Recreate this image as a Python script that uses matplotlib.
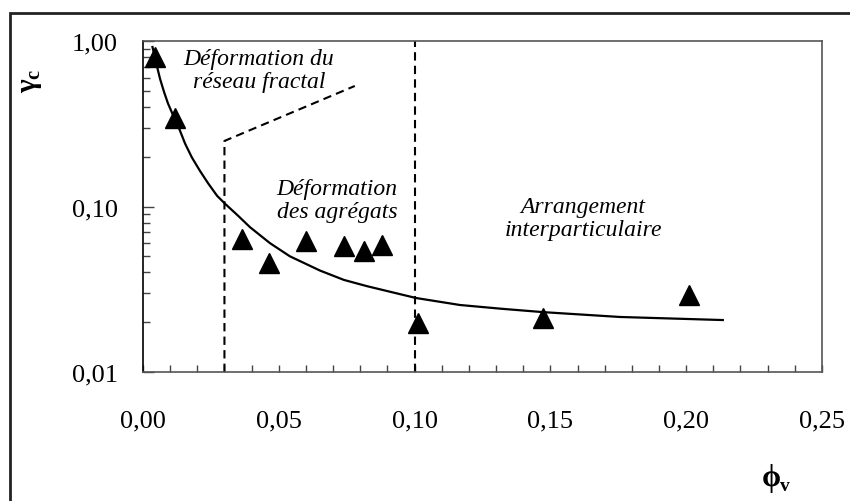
import matplotlib
matplotlib.use("Agg")
import matplotlib.pyplot as plt
from matplotlib.patches import Rectangle
from matplotlib.ticker import FixedLocator, LogLocator, NullFormatter

plt.rcParams['font.family'] = ['Liberation Serif', 'DejaVu Serif']
plt.rcParams['mathtext.fontset'] = 'custom'
plt.rcParams['mathtext.rm'] = 'Liberation Serif'
plt.rcParams['mathtext.it'] = 'Liberation Serif:italic'
plt.rcParams['mathtext.bf'] = 'Liberation Serif:bold'

# points mesures (phi_v, gamma_c)
phi_pts = [0.0044, 0.0118, 0.0363, 0.0465, 0.0600, 0.0740, 0.0814, 0.0879, 0.1014, 0.1472, 0.2011]
gamma_pts = [0.797, 0.341, 0.0637, 0.0456, 0.0617, 0.0578, 0.0536, 0.0587, 0.0198, 0.0211, 0.0292]

# courbe d'ajustement
curve_phi = [0.0035, 0.0050, 0.0063, 0.0078, 0.0092, 0.0108, 0.0125, 0.0155, 0.0180, 0.0210,
             0.0240, 0.0273, 0.0302, 0.0350, 0.0394, 0.0468, 0.0541, 0.0652, 0.0740, 0.0825,
             0.1005, 0.1167, 0.1320, 0.1473, 0.1756, 0.2135]
curve_gamma = [0.92, 0.72, 0.59, 0.49, 0.42, 0.365, 0.32, 0.24, 0.198, 0.164,
               0.138, 0.116, 0.104, 0.088, 0.075, 0.060, 0.050, 0.041, 0.036, 0.033,
               0.028, 0.0254, 0.0241, 0.0230, 0.0215, 0.0206]

# limites des regimes (pointilles)
frontier1_phi = [0.03, 0.03, 0.078]
frontier1_gamma = [0.01, 0.249, 0.535]
frontier2_phi = [0.10, 0.10]
frontier2_gamma = [0.01, 1.0]

xticks = [0.0, 0.05, 0.10, 0.15, 0.20, 0.25]
xticklabels = ["0,00", "0,05", "0,10", "0,15", "0,20", "0,25"]
yticks = [0.01, 0.1, 1.0]
yticklabels = ["0,01", "0,10", "1,00"]

fig = plt.figure(figsize=(8.5, 5.02), dpi=100)
ax = fig.add_axes([0.1682, 0.257, 0.7988, 0.6593])

ax.plot(curve_phi, curve_gamma, color='black', lw=1.6, zorder=3)
ax.plot(phi_pts, gamma_pts, linestyle='none', marker='^', ms=14, color='black', zorder=4)
dash = (0, (4, 2.5))
ax.plot(frontier1_phi, frontier1_gamma, color='black', lw=1.5, linestyle=dash, zorder=2)
ax.plot(frontier2_phi, frontier2_gamma, color='black', lw=1.5, linestyle=dash, zorder=2)

ax.set_yscale('log')
ax.set_xlim(0, 0.25)
ax.set_ylim(0.01, 1.0)

ax.set_xticks(xticks)
ax.set_xticklabels(xticklabels)
ax.xaxis.set_minor_locator(FixedLocator([i / 100 for i in range(26)]))
ax.set_yticks(yticks)
ax.set_yticklabels(yticklabels)
ax.yaxis.set_minor_locator(LogLocator(base=10, subs=range(2, 10)))
ax.yaxis.set_minor_formatter(NullFormatter())

ax.tick_params(axis='x', which='both', direction='in', length=5, width=1, color='#444444',
               labelsize=19, pad=27, top=False)
ax.tick_params(axis='y', which='major', direction='in', length=8, width=1, color='#444444',
               labelsize=19, pad=18, right=False)
ax.tick_params(axis='y', which='minor', direction='in', length=5, width=1, color='#444444',
               right=False)

for side in ['top', 'right', 'bottom']:
    ax.spines[side].set_color('#555555')
    ax.spines[side].set_linewidth(1.2)
ax.spines['left'].set_color('black')
ax.spines['left'].set_linewidth(1.2)

txt = dict(fontsize=17, style='italic', ha='center', va='center', linespacing=1.15)
ax.text(0.0427, 0.668, "Déformation du\nréseau fractal", **txt)
ax.text(0.0714, 0.1094, "Déformation\ndes agrégats", **txt)
ax.text(0.162, 0.0852, "Arrangement\ninterparticulaire", **txt)

# titres des axes
fig.text(0.0365, 0.839, r'$\mathbf{γ}_\mathbf{c}$', rotation=90,
         fontsize=21, ha='center', va='center')
fig.text(0.908, 0.046, 'ϕ', fontsize=22, fontweight='bold', ha='center', va='center',
         family=['Liberation Serif', 'DejaVu Serif'])
fig.text(0.918, 0.030, 'v', fontsize=14, fontweight='bold', ha='left', va='center')

# cadre exterieur
fig.patches.append(Rectangle((0.0118, -0.2), 1.2, 0.972 + 0.2, transform=fig.transFigure,
                             fill=False, lw=2, edgecolor='#222222'))

fig.savefig("out.png", dpi=100)
